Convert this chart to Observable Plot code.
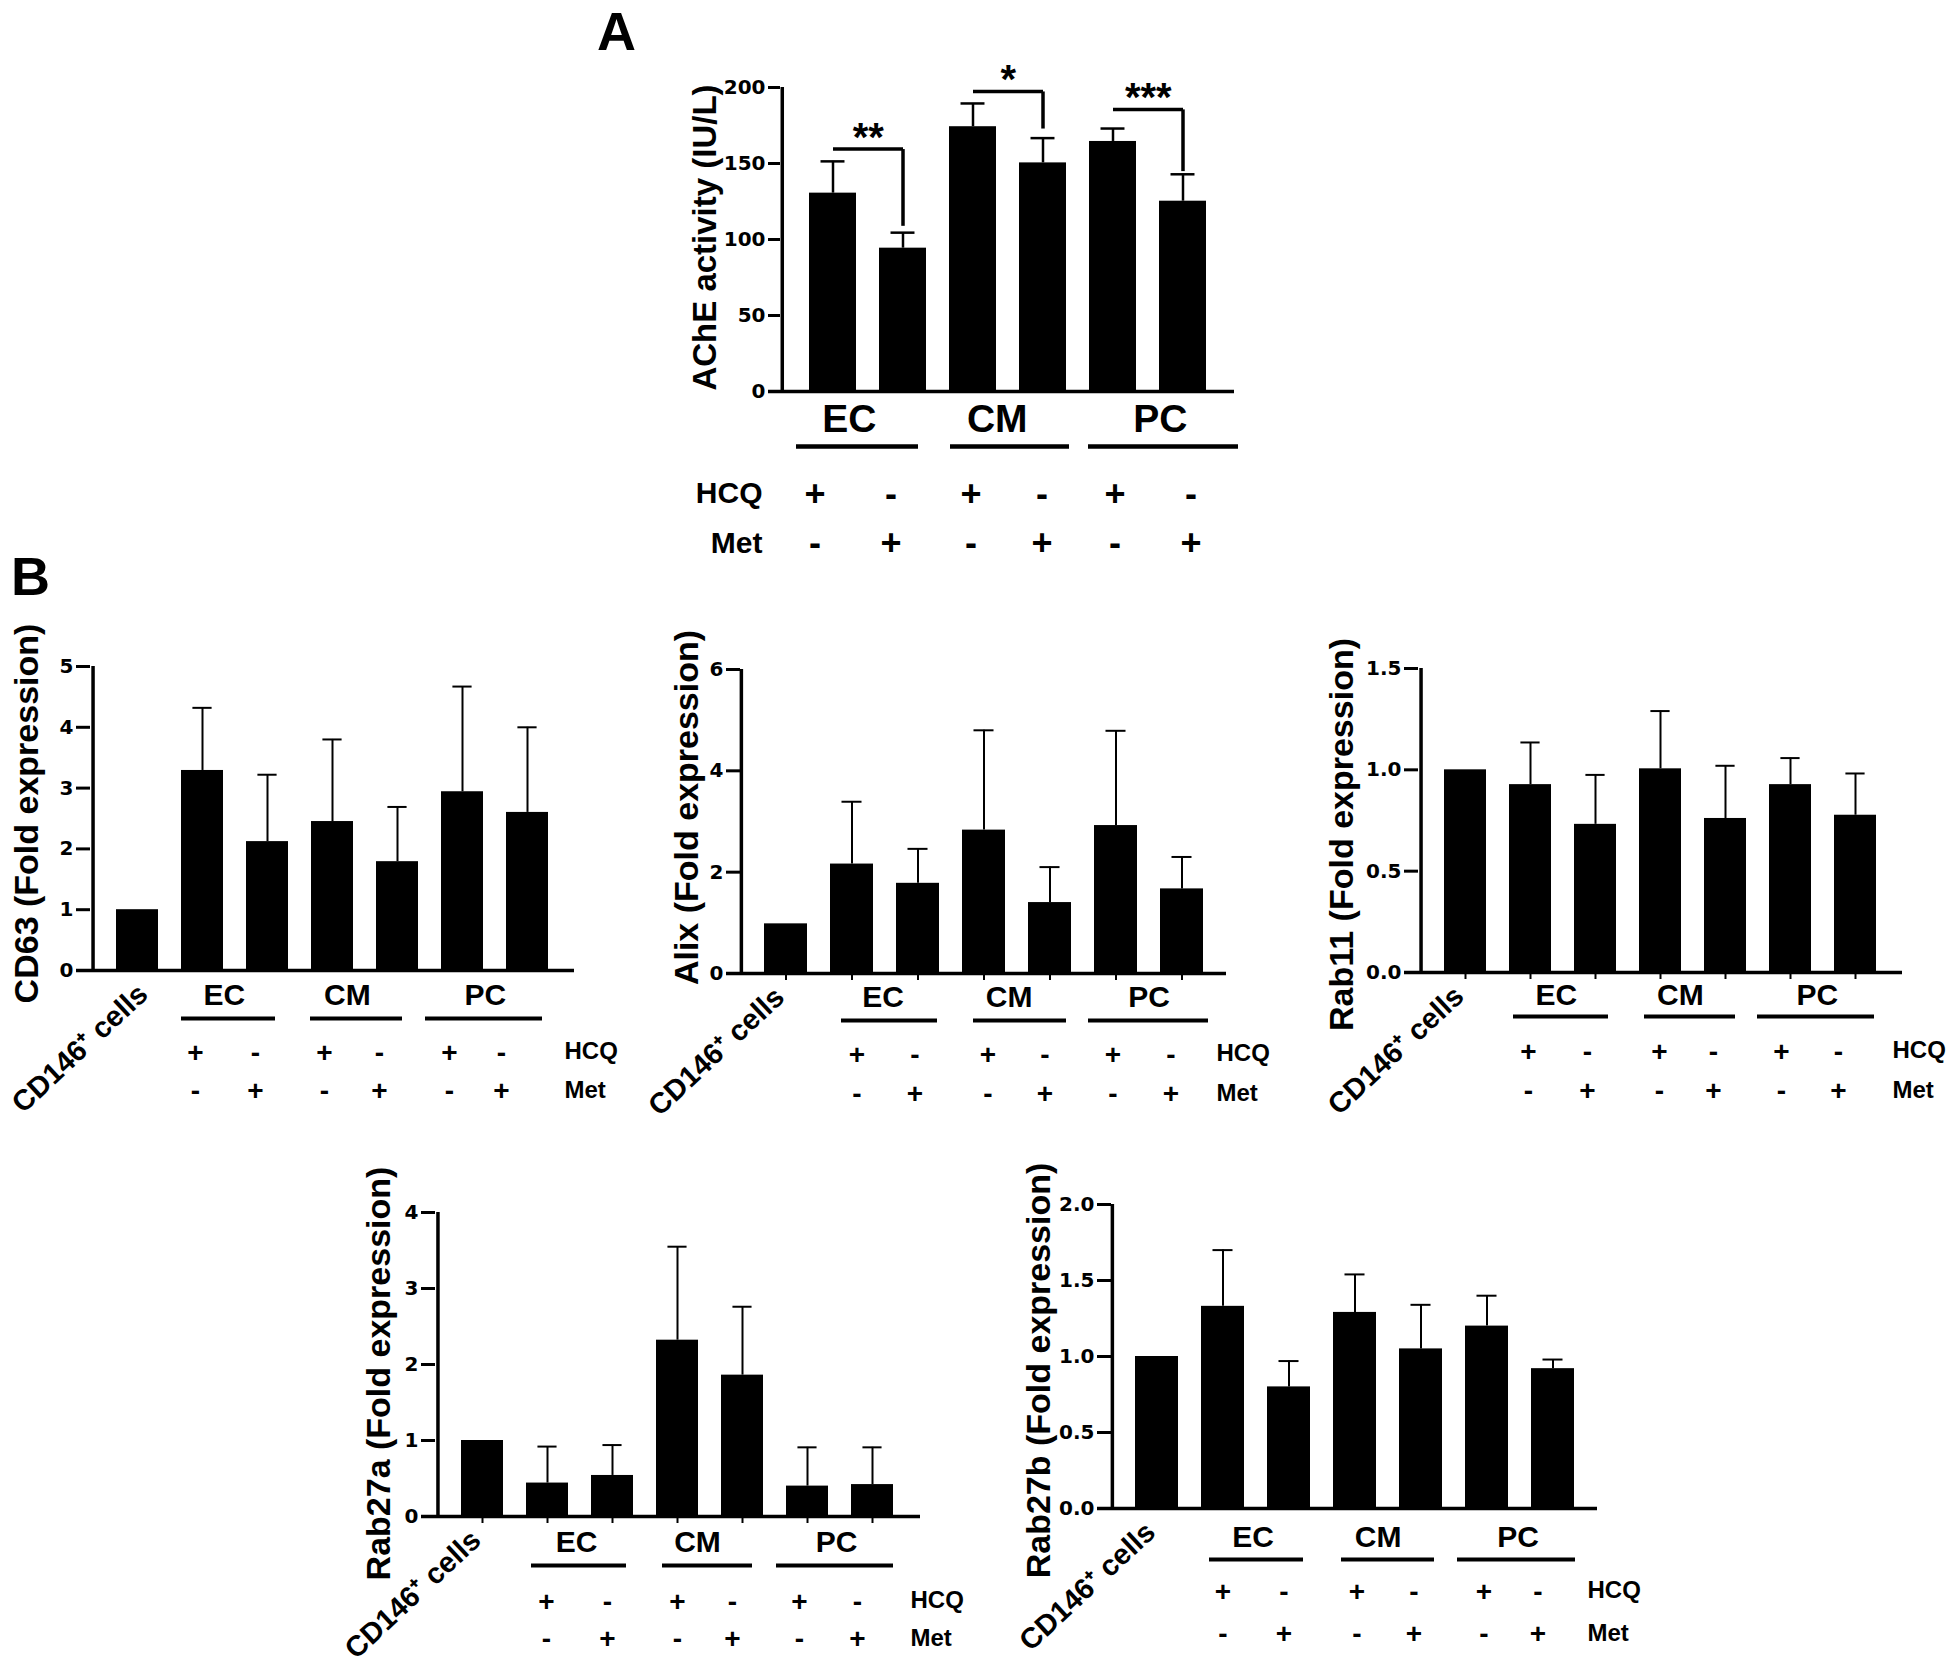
<!DOCTYPE html>
<html><head><meta charset="utf-8">
<script src="https://cdn.jsdelivr.net/npm/d3@7"></script>
<script src="https://cdn.jsdelivr.net/npm/@observablehq/plot@0.6"></script>
<style>
body{margin:0;background:#fff;}
#fig{position:relative;width:1946px;height:1670px;background:#fff;font-family:"Liberation Sans",Arial,sans-serif;overflow:hidden;}
.panel{position:absolute;}
.letter{position:absolute;font-weight:bold;font-size:54px;line-height:54px;color:#000;}
</style></head><body><div id="fig"></div>
<script>
// ---------- data ----------
const conditions = ["EC+", "EC-", "CM+", "CM-", "PC+", "PC-"];
const groups = ["EC", "CM", "PC"];
const hcqSigns = ["+", "-", "+", "-", "+", "-"];
const metSigns = ["-", "+", "-", "+", "-", "+"];
const control = "CD146⁺ cells";
const categoriesB = [control, ...conditions];

// Panel A: AChE activity (IU/L)
const acheMean = [130.5, 94.3, 174.2, 150.4, 164.5, 125.2];
const acheUpper = [151.4, 104.5, 189.5, 166.7, 173.0, 142.9];
const bracketFrom = ["EC+", "CM+", "PC+"];
const bracketTo = ["EC-", "CM-", "PC-"];
const bracketLevel = [159.5, 197.4, 185.6];
const bracketEnd = [109, 173, 145];
const bracketStars = ["**", "*", "***"];
const ticksA = [0, 50, 100, 150, 200];

// Panel B: fold expression (first value = CD146+ cells control)
const cd63Mean = [1.0, 3.29, 2.12, 2.45, 1.79, 2.94, 2.60];
const cd63Upper = [null, 4.32, 3.22, 3.80, 2.69, 4.67, 4.00];
const ticksCD63 = [0, 1, 2, 3, 4, 5];

const alixMean = [0.98, 2.16, 1.78, 2.83, 1.40, 2.92, 1.67];
const alixUpper = [null, 3.39, 2.46, 4.80, 2.10, 4.79, 2.30];
const ticksAlix = [0, 2, 4, 6];

const rab11Mean = [1.0, 0.927, 0.731, 1.005, 0.76, 0.927, 0.776];
const rab11Upper = [null, 1.135, 0.975, 1.29, 1.02, 1.058, 0.982];
const ticksRab11 = [0, 0.5, 1.0, 1.5];

const rab27aMean = [1.0, 0.44, 0.54, 2.32, 1.86, 0.40, 0.42];
const rab27aUpper = [null, 0.92, 0.94, 3.55, 2.76, 0.91, 0.91];
const ticksRab27a = [0, 1, 2, 3, 4];

const rab27bMean = [1.0, 1.33, 0.80, 1.29, 1.05, 1.20, 0.92];
const rab27bUpper = [null, 1.70, 0.97, 1.54, 1.34, 1.40, 0.98];
const ticksRab27b = [0, 0.5, 1.0, 1.5, 2.0];

// ---------- drawing ----------
const fig = document.getElementById("fig");
const FONT = '"Liberation Sans", Arial, Helvetica, sans-serif';
const TICKFONT = '"DejaVu Sans", "Liberation Sans", Arial, sans-serif';

function panel(c) {
  const ml = c.axisX - c.left, mr = c.left + c.width - c.rightX;
  const mt = c.yTopPx - c.top, mb = c.top + c.height - c.y0Px;
  const n = c.cats.length;
  const step = (c.rightX - c.axisX) / (n - c.pi + 2 * c.po);
  const bw = step * (1 - c.pi);
  const centerOff = step * c.po + bw / 2;
  const rows = c.cats.map((cat, i) => ({cat, mean: c.means[i], upper: c.uppers[i]}));
  const errRows = rows.filter(r => r.upper != null);
  const yMax = c.ticks[c.ticks.length - 1];
  const [gdy, udy, hdy, mdy] = c.offsets;
  const marks = [
    Plot.barY(rows, {x: "cat", y: "mean", fill: "black"}),
    Plot.ruleX(errRows, {x: "cat", y1: "mean", y2: "upper", stroke: "black", strokeWidth: c.errW}),
    Plot.tickY(errRows, {x: "cat", y: "upper", stroke: "black", strokeWidth: c.errW, inset: (bw - c.capW) / 2}),
    Plot.ruleY([0], {stroke: "black", strokeWidth: 3.5, insetLeft: -c.tickSize}),
    Plot.ruleX([c.cats[0]], {x: d => d, y1: 0, y2: yMax, stroke: "black", strokeWidth: 3.5, dx: -centerOff}),
    Plot.axisY({ticks: c.ticks, tickFormat: c.fmt, tickSize: c.tickSize, tickPadding: 3, strokeWidth: 3,
      fontSize: c.tickFont, fontFamily: TICKFONT, fontWeight: "bold", label: null}),
    Plot.text([c.title], {text: d => d, frameAnchor: "left", textAnchor: "middle", rotate: -90, dx: c.titleX - c.axisX,
      dy: c.titleY - (c.yTopPx + c.y0Px) / 2, fontSize: c.titleFont, fontWeight: "bold"})
  ];
  groups.forEach((g, i) => {
    marks.push(Plot.text([g], {x: () => conditions[2 * i], text: d => d, frameAnchor: "bottom",
      dx: step / 2 + c.gdx[i], dy: gdy, fontSize: c.groupFont, fontWeight: "bold"}));
    marks.push(Plot.ruleY([g], {x1: () => conditions[2 * i], x2: () => conditions[2 * i + 1], y: () => 0,
      dy: udy, stroke: "black", strokeWidth: c.ulW, insetLeft: c.ulL[i], insetRight: c.ulR[i]}));
  });
  conditions.forEach((cond, i) => {
    marks.push(Plot.text([cond], {x: d => d, text: () => hcqSigns[i], frameAnchor: "bottom", dx: c.sdx[i], dy: hdy,
      fontSize: c.signFont, fontWeight: "bold"}));
    marks.push(Plot.text([cond], {x: d => d, text: () => metSigns[i], frameAnchor: "bottom", dx: c.sdx[i], dy: mdy,
      fontSize: c.signFont, fontWeight: "bold"}));
  });
  marks.push(
    Plot.text(["HCQ"], {text: d => d, frameAnchor: c.labAnchor, textAnchor: c.labText, dx: c.labDx, dy: hdy - 3,
      fontSize: c.labFont, fontWeight: "bold"}),
    Plot.text(["Met"], {text: d => d, frameAnchor: c.labAnchor, textAnchor: c.labText, dx: c.labDx, dy: mdy - 2,
      fontSize: c.labFont, fontWeight: "bold"})
  );
  if (c.control) {
    marks.push(Plot.text([c.control], {x: d => d, text: d => d, frameAnchor: "bottom", rotate: -43,
      textAnchor: "end", dx: c.ctrlDx || 0, dy: 26, fontSize: 29, fontWeight: "bold"}));
  }
  if (c.xTicks) {
    marks.push(Plot.axisX({tickSize: 7, strokeWidth: 2, tickFormat: () => "", label: null}));
  }
  if (c.brackets) marks.push(...c.brackets(step));
  const xOpts = {type: "band", domain: c.cats, paddingInner: c.pi, paddingOuter: c.po};
  if (!c.xTicks) xOpts.axis = null;
  const svg = Plot.plot({
    width: c.width, height: c.height,
    marginLeft: ml, marginRight: mr, marginTop: mt, marginBottom: mb,
    x: xOpts,
    y: {domain: [0, yMax]},
    style: {background: "transparent", fontFamily: FONT, fontWeight: "bold", color: "black", overflow: "visible"},
    marks
  });
  const holder = document.createElement("div");
  holder.className = "panel";
  holder.style.left = c.left + "px";
  holder.style.top = c.top + "px";
  holder.appendChild(svg);
  fig.appendChild(holder);
}

const bracketRows = bracketFrom.map((f, i) => ({from: f, to: bracketTo[i], level: bracketLevel[i], end: bracketEnd[i], stars: bracketStars[i]}));

const baseB = {pi: 0.35, po: 0.35, errW: 2, capW: 20, tickSize: 14, tickFont: 20, titleFont: 34,
  groupFont: 30, signFont: 28, labFont: 24, ulW: 4,
  labAnchor: "bottom-right", labText: "start", labDx: -10, control};

// Panel A
panel({
  left: 560, top: 0, width: 700, height: 580,
  axisX: 780, rightX: 1234, yTopPx: 87, y0Px: 391,
  pi: 0.333, po: 0.386, cats: conditions, means: acheMean, uppers: acheUpper,
  ticks: ticksA, fmt: d3.format("d"), title: "AChE activity (IU/L)", titleX: 705, titleY: 237,
  errW: 2.5, capW: 24, tickSize: 12, tickFont: 20, titleFont: 33, groupFont: 39, signFont: 36, labFont: 30,
  gdx: [-19, -11, 12], sdx: [-18, -12, -2, -1, 2, 8], ulW: 4.5, ulL: [-13, 1, -1], ulR: [8, -3, -32],
  offsets: [40, 55, 114, 163],
  labAnchor: "bottom-left", labText: "end", labDx: -18,
  brackets: (step) => [
    Plot.link(bracketRows, {x1: "from", x2: "to", y1: "level", y2: "level", stroke: "black", strokeWidth: 3.5}),
    Plot.link(bracketRows, {x1: "to", x2: "to", y1: "level", y2: "end", stroke: "black", strokeWidth: 3.5}),
    Plot.text(bracketRows, {x: "from", y: "level", text: "stars", dx: step / 2, dy: -11, fontSize: 40, fontWeight: "bold"})
  ]
});

// Panel B: CD63
panel({...baseB, left: 0, top: 600, width: 640, height: 540,
  axisX: 90, rightX: 574, yTopPx: 666, y0Px: 970, ctrlDx: 12,
  cats: categoriesB, means: cd63Mean, uppers: cd63Upper, ticks: ticksCD63, fmt: d3.format("d"),
  title: "CD63 (Fold expression)", titleX: 27, titleY: 813, offsets: [34, 48, 91, 129],
  gdx: [-11, -18, -10], sdx: [-7, -12, -8, -18, -13, -26], ulL: [0, -1, -16], ulR: [13, 16, 6]});

// Panel B: Alix
panel({...baseB, left: 640, top: 600, width: 660, height: 540,
  axisX: 740, rightX: 1226, yTopPx: 669, y0Px: 973, xTicks: true,
  cats: categoriesB, means: alixMean, uppers: alixUpper, ticks: ticksAlix, fmt: d3.format("d"),
  title: "Alix (Fold expression)", titleX: 687, titleY: 807, offsets: [33, 47, 90, 129],
  gdx: [-2, -8, 0], sdx: [5, -3, 4, -5, -3, -11], ulL: [11, 11, -6], ulR: [2, 5, -5]});

// Panel B: Rab11
panel({...baseB, left: 1300, top: 600, width: 646, height: 540,
  axisX: 1418, rightX: 1902, yTopPx: 668, y0Px: 972, xTicks: true,
  cats: categoriesB, means: rab11Mean, uppers: rab11Upper, ticks: ticksRab11, fmt: d3.format(".1f"),
  title: "Rab11 (Fold expression)", titleX: 1342, titleY: 834, offsets: [32, 44, 88, 127],
  gdx: [-7, -13, -6], sdx: [-2, -8, -1, -12, -9, -17], ulL: [4, 5, -12], ulR: [8, 11, 2]});

// Panel B: Rab27a
panel({...baseB, left: 340, top: 1160, width: 640, height: 510,
  axisX: 435, rightX: 920, yTopPx: 1212, y0Px: 1516, xTicks: true,
  cats: categoriesB, means: rab27aMean, uppers: rab27aUpper, ticks: ticksRab27a, fmt: d3.format("d"),
  title: "Rab27a (Fold expression)", titleX: 379, titleY: 1373, offsets: [35, 49, 94, 131],
  gdx: [-4, -13, -4], sdx: [-1, -5, 0, -10, -8, -15], ulL: [5, 6, -10], ulR: [7, 11, 0]});

// Panel B: Rab27b
panel({...baseB, left: 1000, top: 1160, width: 660, height: 510,
  axisX: 1111, rightX: 1597, yTopPx: 1204, y0Px: 1508,
  cats: categoriesB, means: rab27bMean, uppers: rab27bUpper, ticks: ticksRab27b, fmt: d3.format(".1f"),
  title: "Rab27b (Fold expression)", titleX: 1039, titleY: 1370, offsets: [38, 51, 92, 134],
  gdx: [-3, -10, -2], sdx: [0, -5, 2, -7, -3, -15], ulL: [8, 8, -8], ulR: [7, 8, -1]});

// Panel letters
for (const [txt, x, y] of [["A", 597, 4], ["B", 11, 549]]) {
  const d = document.createElement("div");
  d.className = "letter";
  d.textContent = txt;
  d.style.left = x + "px";
  d.style.top = y + "px";
  fig.appendChild(d);
}
</script></body></html>
